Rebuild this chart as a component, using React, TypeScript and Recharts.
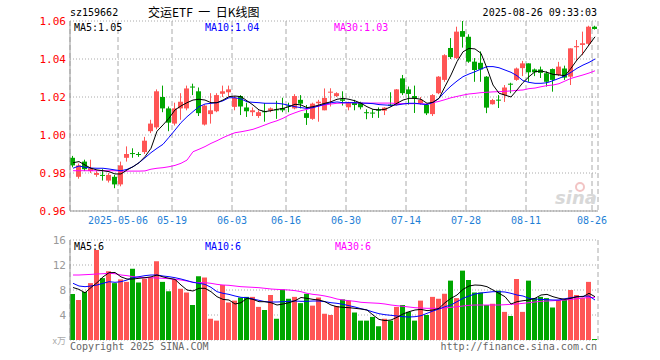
import React from "react";
import { ComposedChart, Bar, Line, XAxis, YAxis, CartesianGrid, Cell } from "recharts";

const dates = [
  "04-21","04-22","04-23","04-24","04-25","04-28","04-29","04-30",
  "05-06","05-07","05-08","05-09","05-12","05-13","05-14","05-15","05-16","05-19","05-20","05-21","05-22","05-23","05-26","05-27","05-28","05-29","05-30",
  "06-03","06-04","06-05","06-06","06-09","06-10","06-11","06-12","06-13","06-16","06-17","06-18","06-19","06-20","06-23","06-24","06-25","06-26","06-27","06-30",
  "07-01","07-02","07-03","07-04","07-07","07-08","07-09","07-10","07-11","07-14","07-15","07-16","07-17","07-18","07-21","07-22","07-23","07-24","07-25","07-28","07-29","07-30","07-31",
  "08-01","08-04","08-05","08-06","08-07","08-08","08-11","08-12","08-13","08-14","08-15","08-18","08-19","08-20","08-21","08-22","08-25","08-26",
];

const tickDays = ["05-06", "05-19", "06-03", "06-16", "06-30", "07-14", "07-28", "08-11", "08-26"];

const open = [
  0.988,0.978,0.986,0.981,0.979,0.979,0.976,0.978,0.974,0.988,
  0.9905,0.990,0.991,1.002,1.004,1.020,1.014,1.006,1.014,1.014,
  1.0255,1.023,1.0055,1.011,1.0125,1.0217,1.0225,1.0148,1.0205,1.0145,
  1.012,1.010,1.0125,1.0128,1.0135,1.0142,1.0155,1.014,1.0185,1.0115,
  1.0085,1.0167,1.013,1.0225,1.0205,1.0188,1.0146,1.017,1.017,1.012,
  1.0118,1.0135,1.0128,1.016,1.0158,1.0298,1.024,1.0205,1.0168,1.0158,
  1.011,1.022,1.029,1.0458,1.0405,1.0547,1.0517,1.0386,1.038,1.0307,
  1.0162,1.0186,1.021,1.027,1.029,1.0352,1.0377,1.0345,1.0345,1.0325,
  1.0347,1.0316,1.035,1.0307,1.0462,1.0474,1.048,1.057,
];
const close = [
  0.984,0.984,0.982,0.9825,0.980,0.9785,0.979,0.974,0.984,0.990,
  0.990,0.9895,0.997,1.006,1.023,1.014,1.0065,1.014,1.0175,1.0245,
  1.025,1.0115,1.0155,1.013,1.021,1.023,1.024,1.0195,1.015,1.0125,
  1.013,1.012,1.012,1.014,1.013,1.013,1.015,1.0205,1.0165,1.009,
  1.0165,1.0175,1.0195,1.0228,1.022,1.018,1.017,1.0158,1.0146,1.0117,
  1.0115,1.0128,1.0144,1.0153,1.024,1.022,1.0216,1.0193,1.0185,1.0114,
  1.021,1.0307,1.042,1.041,1.0544,1.0517,1.0386,1.0342,1.0345,1.0144,
  1.0184,1.0184,1.025,1.0265,1.035,1.0377,1.033,1.033,1.0327,1.028,
  1.029,1.036,1.0302,1.0456,1.0468,1.0483,1.057,1.0558,
];
const high = [
  0.989,0.985,0.987,0.987,0.981,0.982,0.980,0.979,0.986,0.994,
  0.993,0.991,0.999,1.008,1.024,1.026,1.015,1.017,1.022,1.026,
  1.027,1.025,1.016,1.022,1.022,1.026,1.026,1.0205,1.021,1.017,
  1.0145,1.013,1.0168,1.0145,1.018,1.0196,1.017,1.0215,1.021,1.0158,
  1.017,1.0185,1.0245,1.0246,1.0225,1.023,1.0175,1.0185,1.0175,1.0135,
  1.0135,1.0145,1.0146,1.0225,1.0242,1.0316,1.0255,1.026,1.020,1.0165,
  1.0215,1.031,1.0425,1.051,1.057,1.0605,1.053,1.0405,1.044,1.031,
  1.019,1.021,1.0263,1.0275,1.0355,1.039,1.0377,1.035,1.036,1.0335,
  1.035,1.0385,1.0365,1.0456,1.050,1.0544,1.0575,1.0575,
];
const low = [
  0.983,0.977,0.981,0.980,0.978,0.976,0.975,0.972,0.973,0.986,
  0.988,0.9885,0.990,1.001,1.003,1.012,1.002,1.005,1.008,1.013,
  1.021,1.010,1.005,1.006,1.012,1.020,1.0205,1.013,1.0105,1.0095,
  1.010,1.009,1.007,1.012,1.0085,1.012,1.012,1.0135,1.014,1.0053,
  1.008,1.007,1.013,1.015,1.020,1.0155,1.013,1.013,1.0135,1.0083,
  1.009,1.009,1.0105,1.015,1.0155,1.021,1.016,1.0116,1.016,1.0105,
  1.010,1.0215,1.028,1.040,1.040,1.046,1.038,1.028,1.028,1.0115,
  1.016,1.0142,1.0174,1.022,1.0285,1.031,1.028,1.031,1.030,1.0255,
  1.0228,1.031,1.029,1.0263,1.0395,1.042,1.047,1.0555,
];

const ma5 = [
  0.9854,0.986,0.9842,0.9825,0.9816,0.9812,0.9807,0.9795,0.9795,0.9816,
  0.9833,0.9854,0.9886,0.993,1.002,1.0053,1.0088,1.0132,1.0153,1.017,
  1.0184,1.0188,1.0184,1.017,1.017,1.0184,1.0202,1.0205,1.0202,1.018,
  1.0158,1.0132,1.0123,1.0128,1.0135,1.014,1.0149,1.0162,1.0158,1.0144,
  1.0149,1.0158,1.0167,1.0175,1.0188,1.0193,1.0188,1.018,1.0167,1.0149,
  1.0135,1.0132,1.0135,1.0149,1.0167,1.0184,1.0193,1.0193,1.0188,1.0167,
  1.0172,1.0193,1.0255,1.0316,1.0386,1.0438,1.0456,1.0453,1.043,1.0351,
  1.0263,1.022,1.021,1.020,1.0237,1.0276,1.0307,1.0333,1.0337,1.033,
  1.0319,1.0316,1.0312,1.0351,1.0395,1.043,1.0474,1.0517,
];
const ma10 = [
  0.9825,0.9837,0.983,0.9826,0.9825,0.9825,0.9821,0.9816,0.9812,0.9819,
  0.9833,0.9854,0.988,0.9907,0.993,0.9951,0.9988,1.0026,1.0065,1.0096,
  1.0123,1.0149,1.0163,1.0167,1.017,1.018,1.0196,1.0196,1.019,1.0175,
  1.0172,1.017,1.0167,1.0167,1.0167,1.0163,1.0156,1.0149,1.0144,1.014,
  1.0144,1.0153,1.0162,1.017,1.0174,1.017,1.017,1.017,1.0168,1.0167,
  1.0165,1.016,1.0158,1.0156,1.0158,1.0163,1.0167,1.0167,1.0163,1.016,
  1.0172,1.0193,1.0228,1.0258,1.0284,1.0307,1.0321,1.0333,1.0347,1.036,
  1.036,1.0354,1.0342,1.033,1.0312,1.0286,1.0277,1.0272,1.0272,1.0275,
  1.0286,1.0298,1.0311,1.033,1.0351,1.0368,1.0382,1.04,
];
const ma30 = [
  0.9812,0.9812,0.9812,0.9812,0.9812,0.9812,0.9812,0.9812,0.981,0.981,
  0.981,0.981,0.9811,0.982,0.9825,0.9828,0.9833,0.984,0.9851,0.9868,
  0.9912,0.9925,0.9939,0.9956,0.997,0.9986,1.0,1.0012,1.0017,1.0023,
  1.003,1.0041,1.0053,1.0065,1.0075,1.0088,1.0105,1.0117,1.0128,1.0135,
  1.0146,1.0153,1.0158,1.0163,1.0167,1.0168,1.017,1.017,1.0168,1.0168,
  1.0168,1.0168,1.0168,1.0168,1.0165,1.0165,1.0165,1.0165,1.0165,1.0162,
  1.017,1.0177,1.0186,1.0196,1.0203,1.021,1.0216,1.0219,1.0223,1.0225,
  1.0227,1.0228,1.023,1.0232,1.0235,1.0237,1.0244,1.0247,1.0254,1.026,
  1.0263,1.027,1.0284,1.0298,1.0307,1.0316,1.0326,1.0338,
];

// volume in 万手
const vol = [
  7.36,6.4,7.7,9.1,14.4,9.9,11.0,9.1,9.7,9.3,
  11.4,9.2,9.8,10.0,12.6,9.3,7.8,9.7,8.2,7.6,
  5.6,10.2,10.0,3.4,3.1,8.8,6.0,6.3,6.8,6.9,
  6.9,5.3,4.8,7.2,3.4,8.1,6.6,6.9,5.9,7.4,
  5.5,6.8,4.2,4.0,5.44,6.5,6.3,4.4,3.1,3.1,
  3.7,2.2,3.4,3.1,5.3,5.6,4.5,3.1,6.3,4.0,
  6.9,6.6,7.4,9.5,6.7,11.1,9.6,7.6,7.6,5.6,
  5.8,7.9,4.5,3.84,9.76,4.5,9.5,6.7,6.9,6.7,
  5.2,6.4,6.4,8.0,7.2,6.7,9.3,0.16,
];
const vma5 = [
  8.4,8.1,7.55,8.4,9.17,10.1,10.77,10.8,10.1,9.76,
  9.76,9.87,9.97,10.1,10.4,10.1,9.87,9.7,8.8,8.0,
  7.84,8.27,8.27,7.73,6.93,6.5,6.4,5.76,5.97,6.67,
  6.5,6.13,6.13,5.97,5.6,5.76,5.97,6.29,6.8,6.67,
  6.5,6.4,6.13,5.6,5.33,5.23,5.17,5.07,4.96,4.8,
  4.0,3.3,3.1,3.2,3.63,4.16,4.53,4.8,4.9,4.7,
  4.8,5.07,5.97,6.67,7.2,8.1,8.64,8.8,8.75,8.53,
  8.0,7.47,6.93,5.76,6.13,6.29,6.4,6.67,7.2,7.3,
  6.93,6.67,6.5,6.67,6.93,6.93,7.47,6.93,
];
const vma10 = [
  9.07,8.64,8.53,8.64,8.8,9.07,9.33,9.23,9.33,9.6,
  9.97,10.13,10.3,10.4,10.4,10.24,10.13,9.97,9.76,9.5,
  9.23,9.07,8.9,8.43,7.73,7.47,7.3,7.04,6.83,6.77,
  6.56,6.35,6.13,6.08,6.08,6.13,6.19,6.24,6.19,6.19,
  6.24,6.24,6.13,5.97,5.87,5.71,5.49,5.28,5.01,4.8,
  4.48,4.21,4.05,3.95,3.84,3.73,3.68,3.73,3.89,4.27,
  4.64,4.96,5.33,5.6,6.13,6.67,7.04,7.36,7.52,7.63,
  7.73,7.73,7.68,7.47,7.2,7.04,6.67,6.56,6.5,6.45,
  6.4,6.4,6.61,6.77,6.93,6.99,7.04,6.4,
];
const vma30 = [
  10.4,10.4,10.45,10.5,10.56,10.61,10.67,10.61,10.4,10.3,
  10.13,10.03,9.97,9.97,9.92,9.87,9.81,9.7,9.6,9.44,
  9.23,9.17,9.17,9.07,8.9,8.8,8.75,8.64,8.53,8.48,
  8.43,8.37,8.27,8.16,8.1,8.05,8.0,7.9,7.73,7.47,
  7.3,7.2,7.04,6.83,6.56,6.4,6.29,6.19,6.03,5.97,
  5.92,5.87,5.76,5.6,5.49,5.39,5.28,5.17,5.12,5.07,
  5.07,5.07,5.12,5.23,5.33,5.44,5.55,5.6,5.6,5.6,
  5.6,5.6,5.65,5.71,5.76,5.87,5.97,6.08,6.19,6.24,
  6.29,6.35,6.4,6.5,6.61,6.72,6.77,6.83,
];

const priceTicks = [0.96, 0.98, 1.0, 1.02, 1.04, 1.06];
const volTicks = [0, 4, 8, 12, 16];

const RED = "#ff5555";
const GREEN = "#00a600";
const MONO = "'DejaVu Sans Mono', monospace";
const CJK = "'Noto Sans CJK SC', sans-serif";

const rows = dates.map((d, i) => ({
  x: i + 0.5,
  date: d,
  open: open[i],
  close: close[i],
  high: high[i],
  low: low[i],
  range: [low[i], high[i]],
  ma5: ma5[i],
  ma10: ma10[i],
  ma30: ma30[i],
  vol: vol[i],
  vma5: vma5[i],
  vma10: vma10[i],
  vma30: vma30[i],
}));

const tickIdx = tickDays.map((d) => dates.indexOf(d));
const fmtDate = (v: number) => (v === tickIdx[0] ? "2025-" + dates[v] : dates[v]);

const Candle = (props: any) => {
  const { x, y, width, height, payload } = props;
  const { open: o, close: c, high: h, low: l } = payload;
  const k = height / (h - l);
  const py = (v: number) => y + (h - v) * k;
  const color = c >= o ? RED : GREEN;
  const mid = x + width / 2;
  const top = py(Math.max(o, c));
  const bh = Math.max(1, py(Math.min(o, c)) - top);
  return (
    <g>
      <line x1={mid} x2={mid} y1={y} y2={y + height} stroke={color} strokeWidth={1} />
      <rect x={x} y={top} width={width} height={bh} fill={color} />
    </g>
  );
};

const VolTick = (props: any) => {
  const { x, y, payload } = props;
  if (payload.value === 0) {
    return (
      <text x={x} y={y} dy={4} textAnchor="end" fontSize={9} fill="#aaa" fontFamily={CJK}>
        x万
      </text>
    );
  }
  return (
    <text x={x} y={y} dy={4} textAnchor="end" fontSize={11} fill="#999" fontFamily={MONO}>
      {payload.value}
    </text>
  );
};

const last = rows.length - 1;

export default function App() {
  return (
    <div style={{ position: "absolute", left: 0, top: 0, width: 660, height: 360, background: "#fff", overflow: "hidden" }}>
      <div style={{ position: "absolute", left: 0, top: 0 }}>
        <ComposedChart width={660} height={230} data={rows} margin={{ top: 21, right: 62, left: 0, bottom: 0 }}>
          <CartesianGrid vertical={false} stroke="#aaa" strokeDasharray="1 2" />
          <CartesianGrid horizontal={false} stroke="#aaa" strokeDasharray="5 3" />
          <XAxis
            dataKey="x"
            type="number"
            domain={[0, rows.length]}
            ticks={tickIdx}
            interval={0}
            tickFormatter={fmtDate}
            height={19}
            tickLine={false}
            tickSize={4}
            tickMargin={2}
            axisLine={{ stroke: "#999" }}
            tick={{ fill: "#1f7fd6", fontSize: 10, fontFamily: MONO }}
            allowDataOverflow
          />
          <XAxis xAxisId="t" orientation="top" type="number" domain={[0, 1]} height={0} tick={false} tickLine={false} axisLine={{ stroke: "#999" }} />
          <YAxis
            type="number"
            domain={[0.96, 1.06]}
            ticks={priceTicks}
            interval={0}
            allowDataOverflow
            width={70}
            tickLine={false}
            tickSize={3}
            tickMargin={1}
            axisLine={{ stroke: "#999" }}
            tickFormatter={(v: number) => v.toFixed(2)}
            tick={{ fill: "#ff0000", fontSize: 11, fontFamily: MONO }}
          />
          <YAxis yAxisId="r" orientation="right" type="number" domain={[0, 1]} width={0} tick={false} tickLine={false} axisLine={{ stroke: "#999" }} />
          <Bar dataKey="range" barSize={5} shape={<Candle />} isAnimationActive={false} />
          <Line dataKey="ma30" stroke="#ff00ff" strokeWidth={1} dot={false} isAnimationActive={false} />
          <Line dataKey="ma10" stroke="#0000ff" strokeWidth={1} dot={false} isAnimationActive={false} />
          <Line dataKey="ma5" stroke="#000000" strokeWidth={1} dot={false} isAnimationActive={false} />
        </ComposedChart>
      </div>
      <div style={{ position: "absolute", left: 0, top: 230 }}>
        <ComposedChart width={660} height={130} data={rows} margin={{ top: 10, right: 62, left: 0, bottom: 20 }}>
          <CartesianGrid vertical={false} stroke="#aaa" strokeDasharray="1 2" />
          <CartesianGrid horizontal={false} stroke="#aaa" strokeDasharray="5 3" />
          <XAxis
            dataKey="x"
            type="number"
            domain={[0, rows.length]}
            ticks={tickIdx}
            interval={0}
            height={0}
            tick={false}
            tickLine={false}
            axisLine={{ stroke: "#999" }}
            allowDataOverflow
          />
          <XAxis xAxisId="t" orientation="top" type="number" domain={[0, 1]} height={0} tick={false} tickLine={false} axisLine={{ stroke: "#999" }} />
          <YAxis
            type="number"
            domain={[0, 16]}
            ticks={volTicks}
            interval={0}
            allowDataOverflow
            width={70}
            tickLine={false}
            tickSize={3}
            tickMargin={1}
            axisLine={{ stroke: "#999" }}
            tick={<VolTick />}
          />
          <YAxis yAxisId="r" orientation="right" type="number" domain={[0, 1]} width={0} tick={false} tickLine={false} axisLine={{ stroke: "#999" }} />
          <Bar dataKey="vol" barSize={5} isAnimationActive={false}>
            {rows.map((r, i) => (
              <Cell key={i} fill={r.close >= r.open ? RED : GREEN} />
            ))}
          </Bar>
          <Line dataKey="vma30" stroke="#ff00ff" strokeWidth={1} dot={false} isAnimationActive={false} />
          <Line dataKey="vma10" stroke="#0000ff" strokeWidth={1} dot={false} isAnimationActive={false} />
          <Line dataKey="vma5" stroke="#000000" strokeWidth={1} dot={false} isAnimationActive={false} />
        </ComposedChart>
      </div>
      <svg width={660} height={360} style={{ position: "absolute", left: 0, top: 0, pointerEvents: "none" }}>
        <text x={70} y={16} fontSize={10} fontFamily={MONO} fill="#000">sz159662</text>
        <text x={148} y={17} fontSize={12} fontFamily={CJK} fill="#000" style={{ whiteSpace: "pre" }}>交运ETF  一  日K线图</text>
        <text x={597} y={16} fontSize={10} fontFamily={MONO} fill="#000" textAnchor="end">2025-08-26 09:33:03</text>
        <text x={74} y={31} fontSize={10} fontFamily={MONO} fill="#000">MA5:{rows[last].ma5.toFixed(2)}</text>
        <text x={205} y={31} fontSize={10} fontFamily={MONO} fill="#0000ff">MA10:{rows[last].ma10.toFixed(2)}</text>
        <text x={334} y={31} fontSize={10} fontFamily={MONO} fill="#ff00ff">MA30:{rows[last].ma30.toFixed(2)}</text>
        <text x={74} y={250} fontSize={10} fontFamily={MONO} fill="#000">MA5:{Math.floor(rows[last].vma5)}</text>
        <text x={205} y={250} fontSize={10} fontFamily={MONO} fill="#0000ff">MA10:{Math.floor(rows[last].vma10)}</text>
        <text x={335} y={250} fontSize={10} fontFamily={MONO} fill="#ff00ff">MA30:{Math.floor(rows[last].vma30)}</text>
        <text x={70} y={350} fontSize={10} fontFamily={MONO} fill="#666">Copyright 2025 SINA.COM</text>
        <text x={597} y={350} fontSize={10} fontFamily={MONO} fill="#666" textAnchor="end">http://finance.sina.com.cn</text>
        <text x={555} y={204} fontSize={18} fontStyle="italic" fontWeight="bold" fontFamily="'DejaVu Sans', sans-serif" fill="#d8d8d8">sina</text>
        <circle cx={580} cy={187} r={4} fill="none" stroke="#f2c4c4" strokeWidth={2} />
      </svg>
    </div>
  );
}
